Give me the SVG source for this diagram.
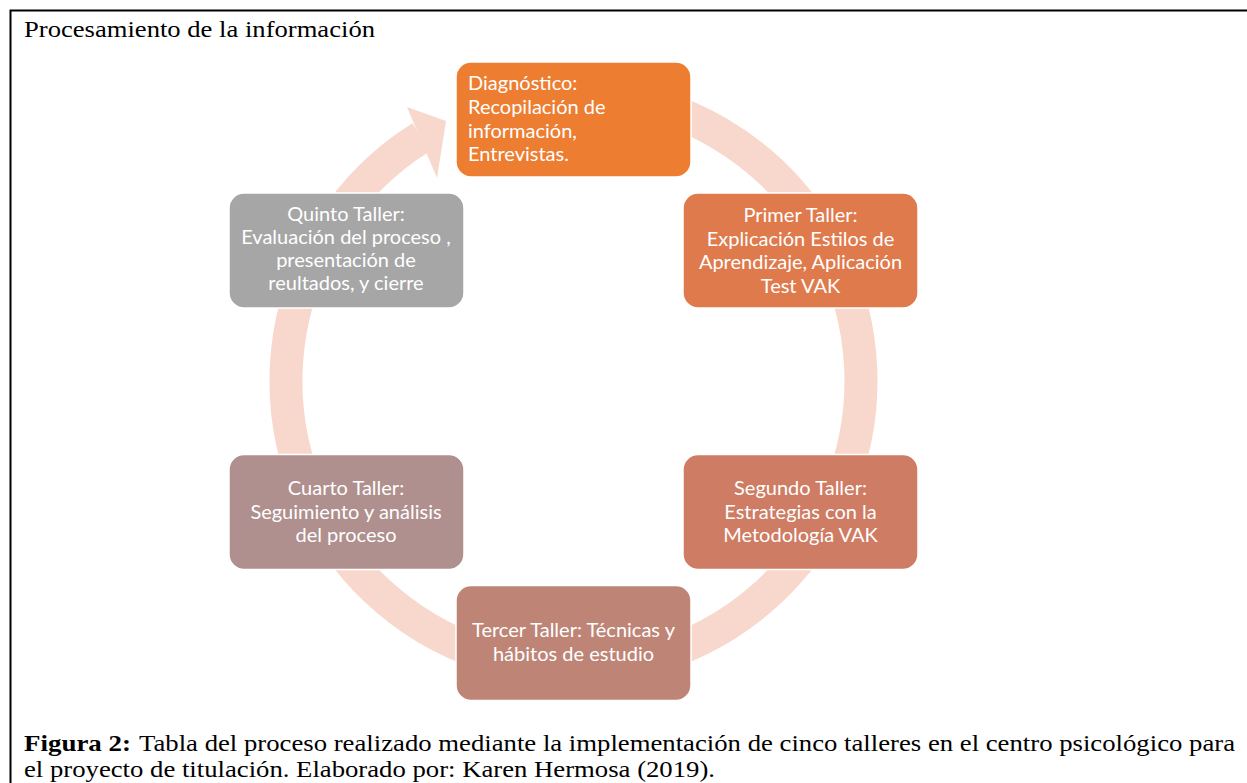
<svg xmlns="http://www.w3.org/2000/svg" width="1247" height="783" viewBox="0 0 1247 783">
<style>
.frame{fill:none;stroke:#000;stroke-width:2}
.title{font-family:"Liberation Serif","Times New Roman",serif;font-size:24px;fill:#000}
.cap{font-family:"Liberation Serif","Times New Roman",serif;font-size:23px;fill:#000}
.box{stroke:#fff;stroke-width:1.5}
.lbl{font-family:Lato,"Open Sans",sans-serif;font-size:20px;fill:#fff}
.c{text-anchor:middle}
.ring{fill:none;stroke:#F8D8CC;stroke-width:33}
</style>
<rect width="1247" height="783" fill="#fff"/>
<path class="frame" d="M10.5,783 V10.5 H1247"/>
<text class="title" x="24" y="37" textLength="351" lengthAdjust="spacingAndGlyphs">Procesamiento de la información</text>
<g id="connectors">
<path class="ring" d="M598.6,94.6 A287.5,287.5 0 1 1 421.1,137.2"/>
<polygon points="407,107 446,121 437,178" fill="#F8D8CC"/>
</g>
<g id="n0"><rect class="box" x="456" y="62" width="235" height="115" rx="15" fill="#ED7D31"/>
<text class="lbl" x="468" y="90">Diagnóstico:</text><text class="lbl" x="468" y="114">Recopilación de</text><text class="lbl" x="468" y="138">información,</text><text class="lbl" x="468" y="161">Entrevistas.</text></g>
<g id="n1"><rect class="box" x="683" y="193" width="235" height="115" rx="15" fill="#DF7A4D"/>
<text class="lbl c" x="800.5" y="222">Primer Taller:</text><text class="lbl c" x="800.5" y="245.5">Explicación Estilos de</text><text class="lbl c" x="800.5" y="269">Aprendizaje, Aplicación</text><text class="lbl c" x="800.5" y="292.5">Test VAK</text></g>
<g id="n2"><rect class="box" x="683" y="454.5" width="235" height="115" rx="15" fill="#CE7C63"/>
<text class="lbl c" x="800.5" y="495">Segundo Taller:</text><text class="lbl c" x="800.5" y="518.5">Estrategias con la</text><text class="lbl c" x="800.5" y="542">Metodología VAK</text></g>
<g id="n3"><rect class="box" x="456" y="585.5" width="235" height="115" rx="15" fill="#BE8577"/>
<text class="lbl c" x="573.5" y="637">Tercer Taller: Técnicas y</text><text class="lbl c" x="573.5" y="660.5">hábitos de estudio</text></g>
<g id="n4"><rect class="box" x="229" y="454.5" width="235" height="115" rx="15" fill="#AF908E"/>
<text class="lbl c" x="346" y="495">Cuarto Taller:</text><text class="lbl c" x="346" y="518.5">Seguimiento y análisis</text><text class="lbl c" x="346" y="542">del proceso</text></g>
<g id="n5"><rect class="box" x="229" y="193" width="235" height="115" rx="15" fill="#A6A6A6"/>
<text class="lbl c" x="346" y="221">Quinto Taller:</text><text class="lbl c" x="346" y="244">Evaluación del proceso ,</text><text class="lbl c" x="346" y="267">presentación de</text><text class="lbl c" x="346" y="290">reultados, y cierre</text></g>
<text class="cap" x="24" y="751" font-weight="bold" textLength="107" lengthAdjust="spacingAndGlyphs">Figura 2:</text>
<text class="cap" x="139" y="751" textLength="1096" lengthAdjust="spacingAndGlyphs">Tabla del proceso realizado mediante la implementación de cinco talleres en el centro psicológico para</text>
<text class="cap" x="24" y="777" textLength="691" lengthAdjust="spacingAndGlyphs">el proyecto de titulación. Elaborado por: Karen Hermosa (2019).</text>
</svg>
